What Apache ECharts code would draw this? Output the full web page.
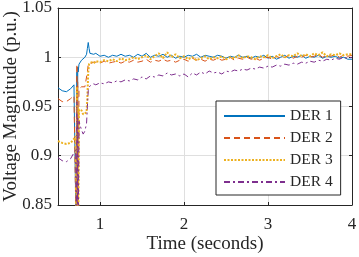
<!DOCTYPE html>
<html>
<head>
<meta charset="utf-8">
<script src="https://cdn.jsdelivr.net/npm/echarts@6/dist/echarts.min.js"></script>
<style>html,body{margin:0;padding:0;background:#fff;}#c{width:359px;height:257px;}</style>
</head>
<body>
<div id="c"></div>
<script>
// time samples (s)
const time = [
  0.50,0.55,0.60,0.65,0.69,0.71,0.72,0.725,0.73,0.735,0.74,0.75,0.76,0.78,0.80,0.82,0.84,0.85,0.86,0.87,0.88,0.90,0.925,
  0.95,1.00,1.05,1.10,1.15,1.20,1.25,1.30,1.35,1.40,
  1.45,1.50,1.55,1.60,1.65,1.70,1.75,1.80,1.85,1.90,
  1.95,2.00,2.05,2.10,2.15,2.20,2.25,2.30,2.35,2.40,
  2.45,2.50,2.55,2.60,2.65,2.70,2.75,2.80,2.85,2.90,
  2.95,3.00,3.05,3.10,3.15,3.20,3.25,3.30,3.35,3.40,
  3.45,3.50,3.55,3.60,3.65,3.70,3.75,3.80,3.85,3.90,
  3.95,4.00
];
const der1 = [
  0.969,0.966,0.965,0.968,0.972,0.974,0.80,0.985,0.80,0.990,0.985,0.993,0.994,0.997,0.999,1.000,1.003,1.009,1.015,1.009,1.004,1.002,1.003,
  1.004,1.001,1.002,1.000,1.002,1.001,1.003,1.001,1.002,1.000,
  1.003,1.001,1.004,1.000,1.002,1.001,1.003,1.000,1.002,0.999,
  1.001,1.000,1.002,1.001,1.003,1.000,1.002,1.001,1.000,1.002,
  1.001,0.999,1.001,1.000,1.002,1.000,1.001,0.999,1.001,1.000,
  1.002,0.999,1.001,0.998,1.000,1.002,0.999,1.001,1.000,1.002,
  0.999,1.001,1.000,1.002,0.999,1.001,1.000,1.001,0.999,1.000,
  0.998,0.998
];
const der2 = [
  0.958,0.955,0.955,0.958,0.961,0.962,0.80,0.993,0.80,0.975,0.80,0.968,0.969,0.970,0.969,0.970,0.971,0.985,0.993,0.994,0.993,0.994,0.995,
  0.995,0.994,0.996,0.994,0.995,0.996,0.994,0.996,0.995,0.997,
  0.995,0.996,0.998,0.995,0.997,0.996,0.998,0.996,0.997,0.995,
  0.997,0.998,0.996,0.999,0.997,0.998,0.996,0.998,0.997,0.999,
  0.997,0.998,1.000,0.997,0.999,0.998,1.000,0.998,0.999,0.997,
  0.999,1.000,0.998,1.001,0.999,1.000,1.002,0.999,1.001,1.000,
  1.002,1.000,1.001,1.003,1.000,1.002,1.001,1.003,1.000,1.002,
  1.001,1.002
];
const der3 = [
  0.915,0.913,0.912,0.913,0.917,0.920,0.80,0.970,0.80,0.950,0.80,0.947,0.945,0.946,0.942,0.940,0.944,0.960,0.985,0.993,0.994,0.995,0.994,
  0.996,0.995,0.997,0.996,0.998,0.996,0.999,0.997,0.998,1.000,
  0.998,1.000,1.002,0.998,1.001,1.004,0.999,1.005,1.000,1.003,
  0.999,1.001,0.998,1.000,0.997,0.999,1.001,0.998,1.000,0.999,
  1.001,0.998,1.000,0.999,1.002,0.999,1.001,1.000,0.998,1.001,
  1.000,1.002,0.999,1.001,1.003,1.000,1.002,1.001,1.004,1.001,
  1.003,1.001,1.004,1.002,1.005,1.001,1.003,1.002,1.004,1.002,
  1.003,1.003
];
const der4 = [
  0.898,0.895,0.894,0.897,0.903,0.906,0.80,0.955,0.80,0.940,0.80,0.935,0.932,0.926,0.922,0.925,0.933,0.950,0.966,0.970,0.971,0.972,0.973,
  0.972,0.974,0.973,0.975,0.974,0.976,0.975,0.977,0.976,0.978,
  0.977,0.980,0.978,0.981,0.980,0.982,0.981,0.984,0.982,0.983,
  0.981,0.983,0.980,0.984,0.982,0.985,0.983,0.986,0.984,0.985,
  0.983,0.986,0.985,0.987,0.986,0.988,0.987,0.989,0.988,0.990,
  0.989,0.991,0.990,0.992,0.991,0.993,0.992,0.994,0.993,0.995,
  0.994,0.996,0.995,0.997,0.996,0.998,0.997,0.999,0.998,1.000,
  0.999,1.000
];
const seriesNames = ['DER 1','DER 2','DER 3','DER 4'];
const xTicks = [1,2,3,4];
const yTicks = [0.85,0.9,0.95,1,1.05];

const FONT = "'Liberation Serif','Times New Roman',serif";
const AX = '#262626';
function zip(v){ return time.map((t,i)=>[t,v[i]]); }

const chart = echarts.init(document.getElementById('c'), null, {renderer:'canvas'});
const axisCommon = {
  axisLine:{show:true, onZero:false, lineStyle:{color:AX,width:1}},
  axisTick:{show:true, inside:true, length:3, lineStyle:{color:AX}},
};
chart.setOption({
  animation:false,
  backgroundColor:'#fff',
  grid:{left:58,right:7,top:8,bottom:52,containLabel:false,outerBoundsMode:'none'},
  xAxis:[
    Object.assign({}, axisCommon, {
      type:'value', min:0.5, max:4, position:'bottom',
      axisTick:{show:true, inside:true, length:3, lineStyle:{color:AX}, customValues:xTicks},
      axisLabel:{customValues:xTicks, color:AX, fontFamily:FONT, fontSize:17, margin:11},
      splitLine:{show:true, lineStyle:{color:'#dfdfdf',width:1}},
      name:'Time (seconds)', nameLocation:'middle', nameGap:30, nameMoveOverlap:false,
      nameTextStyle:{color:AX, fontFamily:FONT, fontSize:19}
    }),
    Object.assign({}, axisCommon, {
      type:'value', min:0.5, max:4, position:'top',
      axisTick:{show:true, inside:true, length:3, lineStyle:{color:AX}, customValues:xTicks},
      axisLabel:{show:false, customValues:xTicks},
      splitLine:{show:false}
    })
  ],
  yAxis:[
    Object.assign({}, axisCommon, {
      type:'value', min:0.85, max:1.05, interval:0.05, position:'left',
      axisLabel:{color:AX, fontFamily:FONT, fontSize:17, margin:6},
      splitLine:{show:true, lineStyle:{color:'#dfdfdf',width:1}},
      name:'Voltage Magnitude (p.u.)', nameLocation:'middle', nameGap:37, nameMoveOverlap:false,
      nameTextStyle:{color:AX, fontFamily:FONT, fontSize:19}
    }),
    Object.assign({}, axisCommon, {
      type:'value', min:0.85, max:1.05, interval:0.05, position:'right',
      axisLabel:{show:false},
      splitLine:{show:false}
    })
  ],
  legend:{
    orient:'vertical', left:216, top:101,
    backgroundColor:'#fff', borderColor:AX, borderWidth:1, borderRadius:0,
    padding:[7,8,5,7], itemGap:6, itemWidth:61, itemHeight:13,
    itemStyle:{opacity:0},
    textStyle:{color:AX, fontFamily:FONT, fontSize:15.5, lineHeight:13},
    data:seriesNames
  },
  series:[
    {name:seriesNames[0], type:'line', data:zip(der1), symbol:'none', showSymbol:false, clip:true,
     lineStyle:{color:'#0072BD', width:1, type:'solid'}, itemStyle:{color:'#0072BD'}},
    {name:seriesNames[1], type:'line', data:zip(der2), symbol:'none', showSymbol:false, clip:true,
     lineStyle:{color:'#D95319', width:1, type:[6,4]}, itemStyle:{color:'#D95319'}},
    {name:seriesNames[2], type:'line', data:zip(der3), symbol:'none', showSymbol:false, clip:true,
     lineStyle:{color:'#EDB120', width:2, type:[2,1.5]}, itemStyle:{color:'#EDB120'}},
    {name:seriesNames[3], type:'line', data:zip(der4), symbol:'none', showSymbol:false, clip:true,
     lineStyle:{color:'#7E2F8E', width:1, type:[6,3,2,3]}, itemStyle:{color:'#7E2F8E'}}
  ]
});
</script>
</body>
</html>
